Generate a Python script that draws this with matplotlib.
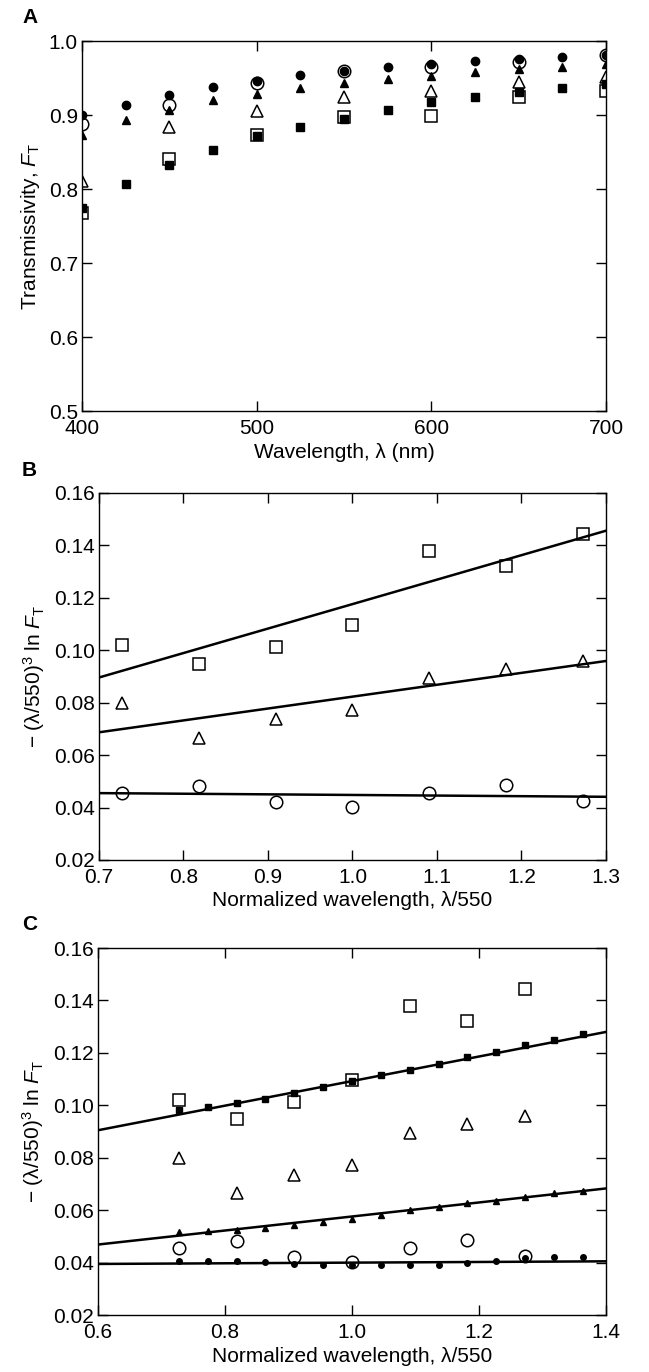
import numpy as np
import matplotlib
matplotlib.use("Agg")
from matplotlib import pyplot as plt

plt.rcParams["font.family"] = ["Liberation Sans", "DejaVu Sans"]
plt.rcParams["mathtext.fontset"] = "custom"
plt.rcParams["mathtext.rm"] = "Liberation Sans"
plt.rcParams["mathtext.it"] = "Liberation Sans:italic"

# ---- panel A: transmissivity vs wavelength
wl_fine = [400, 425, 450, 475, 500, 525, 550, 575, 600, 625, 650, 675, 700]
wl_coarse = [400, 450, 500, 550, 600, 650, 700]

a_fill_circle = [0.900, 0.914, 0.927, 0.938, 0.946, 0.954, 0.960, 0.965, 0.969, 0.973, 0.976, 0.979, 0.981]
a_fill_tri = [0.873, 0.893, 0.907, 0.920, 0.929, 0.936, 0.943, 0.949, 0.953, 0.958, 0.962, 0.965, 0.969]
a_fill_square = [0.774, 0.807, 0.833, 0.853, 0.871, 0.884, 0.895, 0.907, 0.917, 0.924, 0.931, 0.936, 0.942]
a_open_circle = [0.888, 0.914, 0.943, 0.960, 0.965, 0.971, 0.981]
a_open_tri = [0.811, 0.884, 0.906, 0.925, 0.932, 0.945, 0.952]
a_open_square = [0.767, 0.841, 0.873, 0.897, 0.899, 0.924, 0.933]

# ---- panels B and C: -(lambda/550)^3 ln F_T
norm_wl = [400 / 550, 450 / 550, 500 / 550, 550 / 550, 600 / 550, 650 / 550, 700 / 550]
b_square = [0.1019, 0.0946, 0.1013, 0.1096, 0.1380, 0.1320, 0.1445]
b_tri = [0.0798, 0.0666, 0.0736, 0.0772, 0.0896, 0.0927, 0.0959]
b_circle = [0.0455, 0.0483, 0.0423, 0.0403, 0.0457, 0.0487, 0.0425]

b_line_x = [0.7, 1.3]
b_line_square = [0.0896, 0.1456]
b_line_tri = [0.0687, 0.0959]
b_line_circle = [0.0455, 0.0441]

c_wl = [400, 425, 450, 475, 500, 525, 550, 575, 600, 625, 650, 675, 700, 725, 750]
c_fill_square = [0.0982, 0.0994, 0.1010, 0.1025, 0.1048, 0.1070, 0.1092, 0.1114,
                 0.1134, 0.1158, 0.1184, 0.1204, 0.1232, 0.1251, 0.1271]
c_fill_tri = [0.0516, 0.0520, 0.0525, 0.0533, 0.0542, 0.0555, 0.0568, 0.0583,
              0.0599, 0.0614, 0.0626, 0.0634, 0.0650, 0.0664, 0.0672]
c_fill_circle = [0.0408, 0.0408, 0.0405, 0.0402, 0.0396, 0.0391, 0.0392, 0.0391,
                 0.0391, 0.0392, 0.0398, 0.0405, 0.0418, 0.0420, 0.0423]

c_line_x = [0.6, 1.4]
c_line_square = [0.0905, 0.1280]
c_line_tri = [0.0469, 0.0683]
c_line_circle = [0.0395, 0.0405]

FS = 15
open_kw = dict(linestyle="none", markerfacecolor="none", markeredgecolor="black",
               markeredgewidth=1.1, markersize=9)
fill_kw = dict(linestyle="none", color="black", markersize=6)


def style_axes(ax):
    ax.tick_params(direction="in", length=7, width=1, top=True, right=True,
                   labelsize=FS)
    ax.tick_params(axis="x", pad=6)
    ax.tick_params(axis="y", pad=3)
    for s in ax.spines.values():
        s.set_linewidth(1)


fig = plt.figure(figsize=(6.49, 13.72), dpi=100)

# Panel A
axA = fig.add_axes([0.1263, 0.7004, 0.8074, 0.2697])
axA.plot(wl_fine, a_fill_square, marker="s", **fill_kw, zorder=3)
axA.plot(wl_coarse, a_open_square, marker="s", **open_kw, zorder=2)
axA.plot(wl_coarse, a_open_tri, marker="^", **open_kw, zorder=2)
axA.plot(wl_coarse, a_open_circle, marker="o", **open_kw, zorder=2)
axA.plot(wl_fine, a_fill_tri, marker="^", **fill_kw, zorder=3)
axA.plot(wl_fine, a_fill_circle, marker="o", **fill_kw, zorder=3)
axA.set_xlim(400, 700)
axA.set_ylim(0.5, 1.0)
axA.set_xticks([400, 500, 600, 700])
axA.set_yticks(np.arange(0.5, 1.01, 0.1))
axA.set_yticklabels(["0.5", "0.6", "0.7", "0.8", "0.9", "1.0"])
axA.set_xlabel("Wavelength, λ (nm)", fontsize=FS, labelpad=3)
axA.set_ylabel(r"Transmissivity, $\mathit{F}_{\mathrm{T}}$", fontsize=FS, labelpad=5)
style_axes(axA)
fig.text(0.034, 0.987, "A", fontsize=FS, fontweight="bold", va="center")

ylab = r"$-$ (λ/550)$^3$ ln $\mathit{F}_{\mathrm{T}}$"

# Panel B
axB = fig.add_axes([0.1525, 0.3732, 0.7812, 0.2675])
axB.plot(b_line_x, b_line_square, color="black", lw=1.8)
axB.plot(b_line_x, b_line_tri, color="black", lw=1.8)
axB.plot(b_line_x, b_line_circle, color="black", lw=1.8)
axB.plot(norm_wl, b_square, marker="s", **open_kw)
axB.plot(norm_wl, b_tri, marker="^", **open_kw)
axB.plot(norm_wl, b_circle, marker="o", **open_kw)
axB.set_xlim(0.7, 1.3)
axB.set_ylim(0.02, 0.16)
axB.set_xticks(np.arange(0.7, 1.31, 0.1))
axB.set_xticklabels(["0.7", "0.8", "0.9", "1.0", "1.1", "1.2", "1.3"])
axB.set_yticks(np.arange(0.02, 0.161, 0.02))
axB.set_yticklabels(["%.2f" % v for v in np.arange(0.02, 0.161, 0.02)])
axB.set_xlabel("Normalized wavelength, λ/550", fontsize=FS, labelpad=3)
axB.set_ylabel(ylab, fontsize=FS, labelpad=5)
style_axes(axB)
fig.text(0.034, 0.657, "B", fontsize=FS, fontweight="bold", va="center")

# Panel C
c_x = [w / 550 for w in c_wl]
axC = fig.add_axes([0.1510, 0.0415, 0.7827, 0.2675])
axC.plot(c_line_x, c_line_square, color="black", lw=1.8)
axC.plot(c_line_x, c_line_tri, color="black", lw=1.8)
axC.plot(c_line_x, c_line_circle, color="black", lw=1.8)
axC.plot(c_x, c_fill_square, marker="s", linestyle="none", color="black", markersize=3.8)
axC.plot(c_x, c_fill_tri, marker="^", linestyle="none", color="black", markersize=4)
axC.plot(c_x, c_fill_circle, marker="o", linestyle="none", color="black", markersize=4)
axC.plot(norm_wl, b_square, marker="s", **open_kw)
axC.plot(norm_wl, b_tri, marker="^", **open_kw)
axC.plot(norm_wl, b_circle, marker="o", **open_kw)
axC.set_xlim(0.6, 1.4)
axC.set_ylim(0.02, 0.16)
axC.set_xticks([0.6, 0.8, 1.0, 1.2, 1.4])
axC.set_xticklabels(["0.6", "0.8", "1.0", "1.2", "1.4"])
axC.set_yticks(np.arange(0.02, 0.161, 0.02))
axC.set_yticklabels(["%.2f" % v for v in np.arange(0.02, 0.161, 0.02)])
axC.set_xlabel("Normalized wavelength, λ/550", fontsize=FS, labelpad=3)
axC.set_ylabel(ylab, fontsize=FS, labelpad=5)
style_axes(axC)
fig.text(0.034, 0.326, "C", fontsize=FS, fontweight="bold", va="center")

fig.savefig("out.png", dpi=100)
